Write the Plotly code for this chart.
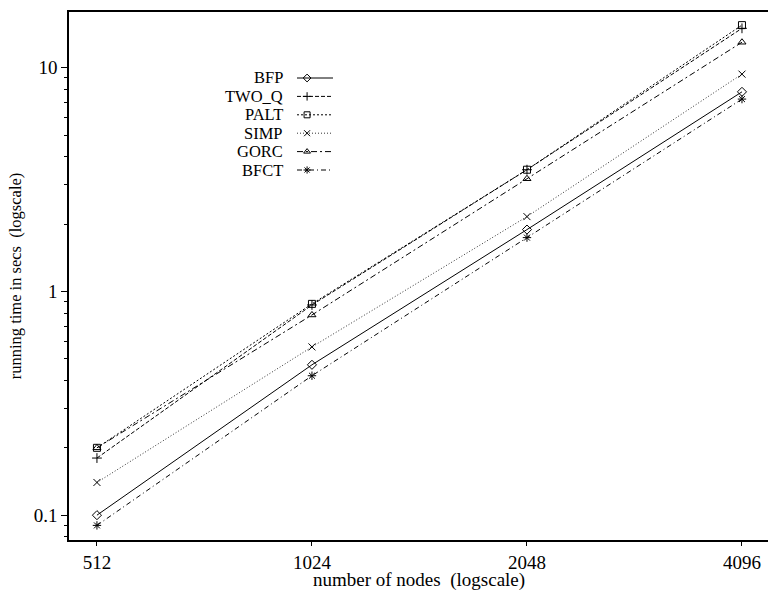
import plotly.graph_objects as go
import math

nodes = [512, 1024, 2048, 4096]
tick_labels = ["512", "1024", "2048", "4096"]

bfp = [0.10, 0.47, 1.89, 7.8]
two_q = [0.18, 0.87, 3.50, 15.0]
palt = [0.20, 0.88, 3.50, 15.5]
simp = [0.14, 0.565, 2.16, 9.36]
gorc = [0.20, 0.785, 3.19, 13.0]
bfct = [0.09, 0.42, 1.74, 7.24]

names = ["BFP", "TWO_Q", "PALT", "SIMP", "GORC", "BFCT"]
values = [bfp, two_q, palt, simp, gorc, bfct]
dashes = ["solid", "4px,2px", "2px,2px", "1px,2px", "6px,3px,2px,3px", "5px,3px,1px,3px"]
symbols = ["diamond-open", "cross-thin-open", "square-open", "x-thin-open",
           "triangle-up-open", "asterisk-open"]
colors = ["black", "black", "black", "#333333", "black", "black"]

FONT = "Liberation Serif, Times New Roman, serif"

# pixel geometry helpers (plot area: x 69..768, y 12..540)
L, R, T, B = 69, 768, 12, 540
def px(x):
    return (x - L) / (R - L)
def py(y):
    return (B - y) / (B - T)

fig = go.Figure()
for name, vals, dash, sym, col in zip(names, values, dashes, symbols, colors):
    fig.add_trace(go.Scatter(
        x=nodes, y=vals, name=name, mode="lines+markers", showlegend=False,
        line=dict(color=col, width=1, dash=dash),
        marker=dict(symbol=sym, size=7, color="black", line=dict(width=1, color="black")),
    ))

# custom legend (label on the left, sample on the right), rows in legend axis units
ROW = 18.4
legend_rows = list(range(len(names)))
for i, (name, dash, sym, col) in enumerate(zip(names, dashes, symbols, colors)):
    fig.add_trace(go.Scatter(
        x=[0, 1], y=[legend_rows[i], legend_rows[i]], mode="lines",
        line=dict(color=col, width=1, dash=dash), xaxis="x2", yaxis="y2",
        showlegend=False, hoverinfo="skip",
    ))
    fig.add_trace(go.Scatter(
        x=[0.28], y=[legend_rows[i]], mode="markers",
        marker=dict(symbol=sym, size=6, color="black", line=dict(width=1, color="black")),
        xaxis="x2", yaxis="y2", showlegend=False, hoverinfo="skip",
    ))
    fig.add_annotation(
        x=px(284), y=legend_rows[i], xref="paper", yref="y2",
        text=name, showarrow=False, xanchor="right", yanchor="middle",
        borderpad=0, font=dict(family=FONT, size=16.5, color="black"),
    )

# x axis title placed at the bottom edge of the figure
fig.add_annotation(
    x=0.5, y=-(590 - B) / (B - T), xref="paper", yref="paper",
    text="number of nodes  (logscale)", showarrow=False,
    xanchor="center", yanchor="bottom", borderpad=0, yshift=-2,
    font=dict(family=FONT, size=19, color="black"),
)

minor_y = [0.08, 0.09] + [k / 10 for k in range(2, 10)] + list(range(2, 10))

fig.update_layout(
    width=768, height=590,
    margin=dict(l=L, r=768 - R, t=T, b=590 - B),
    paper_bgcolor="white", plot_bgcolor="white",
    font=dict(family=FONT, size=16, color="black"),
    showlegend=False,
    xaxis=dict(
        type="log",
        range=[8.870 * math.log10(2), 12.121 * math.log10(2)],
        tickvals=nodes, ticktext=tick_labels,
        ticks="outside", ticklen=4, tickwidth=1, tickcolor="black",
        showline=True, linecolor="black", linewidth=1.5, mirror=True,
        showgrid=False, zeroline=False,
        tickfont=dict(family=FONT, size=19),
    ),
    yaxis=dict(
        type="log",
        range=[-1.111, 1.249],
        tickvals=[0.1, 1, 10], ticktext=["0.1", "1", "10"],
        ticks="outside", ticklen=6, tickwidth=1, tickcolor="black",
        minor=dict(tickvals=minor_y, ticks="outside", ticklen=3, tickwidth=1,
                   tickcolor="black", showgrid=False),
        showline=True, linecolor="black", linewidth=1.5, mirror=False,
        showgrid=False, zeroline=False,
        title=dict(text="running time in secs  (logscale)", standoff=8,
                   font=dict(family=FONT, size=16.5)),
        tickfont=dict(family=FONT, size=19),
    ),
    xaxis2=dict(domain=[px(297), px(333)], range=[0, 1], anchor="y2",
                visible=False, fixedrange=True),
    yaxis2=dict(domain=[py(78 + ROW * 5.5), py(78 - ROW * 0.5)],
                range=[5.5, -0.5], anchor="x2", visible=False, fixedrange=True),
)

fig.write_html("out.html")
